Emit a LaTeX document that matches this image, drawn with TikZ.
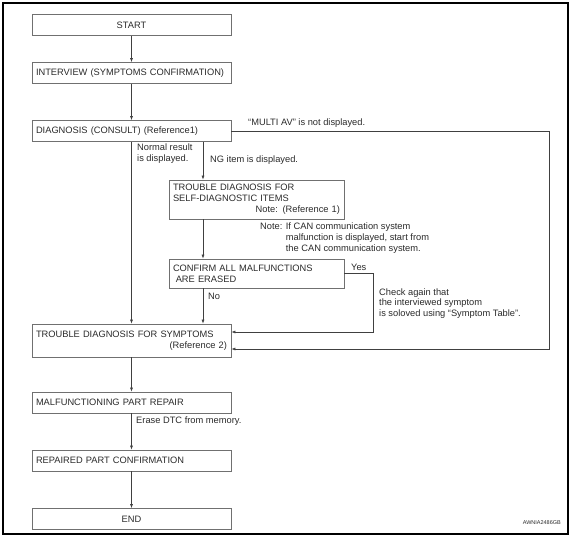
\documentclass[tikz,border=0pt]{standalone}
\usepackage{fontspec}
\setmainfont{Liberation Sans}
\usetikzlibrary{arrows.meta}
\definecolor{boxgray}{HTML}{707070}
\definecolor{linegray}{HTML}{404040}
\definecolor{txtgray}{HTML}{2A2A2A}

\begin{document}
\begin{tikzpicture}[x=1pt,y=-1pt,
    every node/.style={font=\fontsize{9.3}{11}\selectfont,text=txtgray},
    note/.style={inner sep=0pt,align=left,anchor=west},
    link/.style={draw=linegray,line width=0.6pt,-{Latex[length=4pt,width=3pt]}}]
  \useasboundingbox (0,0) rectangle (571,541);
  \draw[line width=1.2pt] (3,3) rectangle (568,534);
  \coordinate (ngline) at (203,0);
  \coordinate (yesturn) at (373,332);
  \coordinate (multiturn) at (549,349);
      \begin{scope}[every node/.style={draw=boxgray,line width=0.7pt,font=\fontsize{9.3}{11}\selectfont,text=txtgray,
          minimum width=199pt,text width=191pt,minimum height=21pt,inner xsep=4pt,inner ysep=0pt,align=left}]
        \node[align=center] (start) at (131.5,25) {START};
        \node (interview) at (131.5,73) {INTERVIEW (SYMPTOMS CONFIRMATION)};
        \node (diag) at (131.5,131) {DIAGNOSIS (CONSULT) (Reference1)};
        \node[minimum width=175pt,text width=167pt,minimum height=39pt] (selfdiag) at (256.5,199.5) {TROUBLE DIAGNOSIS FOR\\SELF-DIAGNOSTIC ITEMS\\\hspace*{\fill}Note: (Reference 1)};
        \node[minimum width=175pt,text width=167pt,minimum height=29pt] (confirm) at (256.5,273.5) {CONFIRM ALL MALFUNCTIONS\\\hspace*{0.3em}ARE ERASED};
        \node[minimum height=33pt] (symptoms) at (131.5,340.5) {TROUBLE DIAGNOSIS FOR SYMPTOMS\\\hspace*{\fill}(Reference 2)};
        \node (repair) at (131.5,402.5) {MALFUNCTIONING PART REPAIR};
        \node (partconf) at (131.5,460.5) {REPAIRED PART CONFIRMATION};
        \node[align=center] (finish) at (131.5,519) {END};
      \end{scope}
      \begin{scope}[every edge/.style={link}]
        \path (start) edge (interview);
        \path (interview) edge (diag);
        \path (diag) edge (symptoms);
        \path (diag.south -| ngline) edge (selfdiag.north -| ngline);
        \path (selfdiag.south -| ngline) edge (confirm.north -| ngline);
        \path (confirm.south -| ngline) edge (symptoms.north -| ngline);
        \path (symptoms) edge (repair);
        \path (repair) edge (partconf);
        \path (partconf) edge (finish);
      \end{scope}
      \draw[link] (confirm.east) -| (yesturn) -- (yesturn -| symptoms.east);
      \draw[link] (diag.east) -| (multiturn) -- (multiturn -| symptoms.east);
      % labels
      \node[note] (multilbl) at (248,123) {“MULTI AV” is not displayed.};
      \node[note] (normallbl) at (137,153.5) {Normal result\\is displayed.};
      \node[note] (nglbl) at (210,160) {NG item is displayed.};
      \node[note] (cannote) at (260,238) {Note: If CAN communication system\\\phantom{Note: }malfunction is displayed, start from\\\phantom{Note: }the CAN communication system.};
      \node[note] (yeslbl) at (351,267) {Yes};
      \node[note] (nolbl) at (208,296) {No};
      \node[note,font=\fontsize{9.3}{10.5}\selectfont] (checklbl) at (379,303.5) {Check again that\\the interviewed symptom\\is soloved using “Symptom Table”.};
      \node[note] (eraselbl) at (136,421) {Erase DTC from memory.};
      \node[note,anchor=east,font=\fontsize{5.5}{6}\selectfont] (code) at (561,523) {AWNIA2486GB};
    \end{tikzpicture}
\end{document}
